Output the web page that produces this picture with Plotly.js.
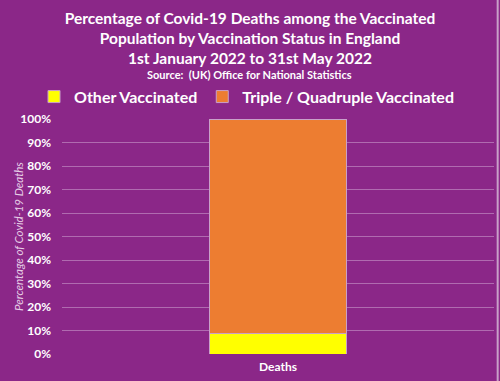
<!DOCTYPE html>
<html><head><meta charset="utf-8">
<script src="https://cdn.plot.ly/plotly-3.0.1.min.js"></script>
<style>html,body{margin:0;padding:0;background:#8B2788;}#chart{width:500px;height:381px;}</style>
</head><body><div id="chart"></div>
<script>
const categories = ["Deaths"];
const otherVaccinated = [8.8];
const tripleQuadVaccinated = [91.2];
const yTicks = [0,10,20,30,40,50,60,70,80,90,100];
const yTickLabels = ["0%","10%","20%","30%","40%","50%","60%","70%","80%","90%","100%"];

const font = "Lato, 'Open Sans', sans-serif";
const traces = [
  {type:"bar", name:"Other Vaccinated", x:categories, y:otherVaccinated, marker:{color:"#FFFF00", line:{color:"#C9A0C9", width:1}}, width:0.317, hoverinfo:"skip"},
  {type:"bar", name:"Triple / Quadruple Vaccinated", x:categories, y:tripleQuadVaccinated, marker:{color:"#ED7D31", line:{color:"#C9A0C9", width:1}}, width:0.317, hoverinfo:"skip"}
];
const layout = {
  width:500, height:381,
  paper_bgcolor:"#8B2788", plot_bgcolor:"#8B2788",
  barmode:"stack",
  margin:{l:62, r:6, t:119, b:27, autoexpand:false},
  font:{family:font, color:"#FFFFFF"},
  title:{text:"Percentage of Covid-19 Deaths among the Vaccinated<br>Population by Vaccination Status in England<br>1st January 2022 to 31st May 2022",
    font:{family:font, size:15.5, weight:"bold", color:"#FFFFFF"}, x:0.5, xref:"container", xanchor:"center", y:0.937, yanchor:"middle", yref:"container", automargin:false},
  annotations:[{text:"Source:  (UK) Office for National Statistics", xref:"paper", yref:"paper", x:0.435, xanchor:"center", y:1.19, yanchor:"middle", showarrow:false, font:{family:font, size:11, weight:"bold", color:"#FFFFFF"}},
    {text:"Percentage of Covid-19 Deaths", xref:"paper", yref:"paper", x:0, y:0.5, xshift:-52, textangle:-90, showarrow:false, font:{family:font, size:11.5, style:"italic", color:"#E6CDE6"}}],
  shapes:[{type:"line", xref:"paper", yref:"paper", x0:1.0085, x1:1.0085, y0:-0.12, y1:1.52, line:{color:"#C8A0C8", width:2}}],
  legend:{orientation:"h", xref:"container", x:0.068, xanchor:"left", y:1.095, yanchor:"middle", traceorder:"normal", font:{family:font, size:16, weight:"bold", color:"#FFFFFF"}, bgcolor:"rgba(0,0,0,0)", itemwidth:30},
  xaxis:{type:"category", range:[-0.5,0.5], showgrid:false, zeroline:false, showline:false, ticks:"", tickfont:{family:font, size:12, weight:"bold", color:"#FFFFFF"}, ticklabelstandoff:4},
  yaxis:{range:[0,100], tickvals:yTicks, ticktext:yTickLabels, showgrid:true, gridcolor:"#B06BB0", gridwidth:1, zeroline:false, showline:false, ticks:"", tickfont:{family:font, size:12, weight:"bold", color:"#FFFFFF"}, ticklabelstandoff:10, fixedrange:true},
  showlegend:true
};
Plotly.newPlot("chart", traces, layout, {displayModeBar:false, staticPlot:true});
</script></body></html>
